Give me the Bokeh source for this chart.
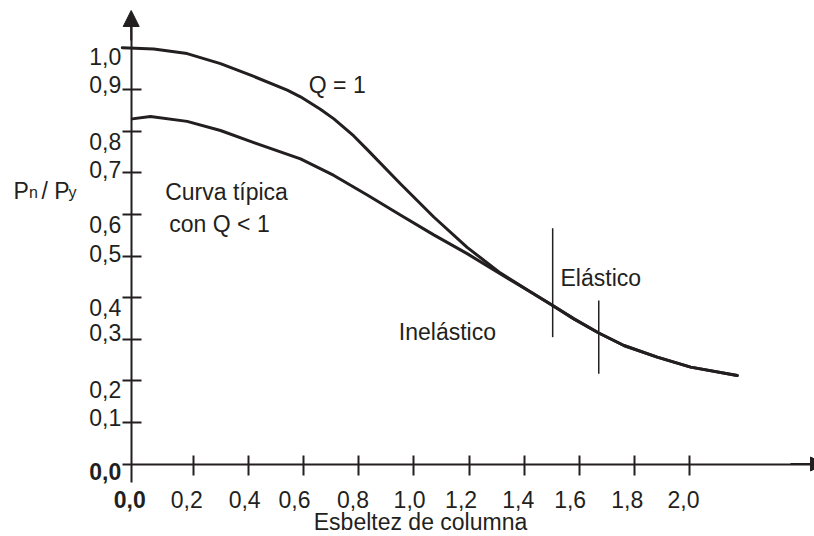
from bokeh.plotting import figure
from bokeh.models import Range1d, LinearAxis, FixedTicker, Arrow, NormalHead, CustomJSTickFormatter
from bokeh.core.properties import value
from bokeh.embed import file_html
from bokeh.resources import INLINE

# ---------------- data ----------------
x_tick_values = [0.2, 0.4, 0.6, 0.8, 1.0, 1.2, 1.4, 1.6, 1.8, 2.0]
x_tick_labels = ["0,2", "0,4", "0,6", "0,8", "1,0", "1,2", "1,4", "1,6", "1,8", "2,0"]
y_tick_values = [0.1, 0.2, 0.3, 0.4, 0.5, 0.6, 0.7, 0.8, 0.9]
y_label_values = [0.1, 0.2, 0.3, 0.4, 0.5, 0.6, 0.7, 0.8, 0.9, 1.0]
y_label_texts = ["0,1", "0,2", "0,3", "0,4", "0,5", "0,6", "0,7", "0,8", "0,9", "1,0"]

# curve Q = 1
slenderness_q1 = [-0.057, 0.057, 0.178, 0.299, 0.420, 0.541, 0.589, 0.661, 0.710, 0.782,
                  0.831, 0.951, 1.072, 1.193, 1.314, 1.435, 1.503, 1.580, 1.670, 1.761,
                  1.882, 2.003, 2.172]
ratio_q1 = [1.001, 0.998, 0.987, 0.963, 0.932, 0.899, 0.883, 0.853, 0.830, 0.789,
            0.756, 0.674, 0.594, 0.521, 0.459, 0.409, 0.381, 0.349, 0.315, 0.285,
            0.257, 0.233, 0.213]

# typical curve with Q < 1
slenderness_qlt1 = [-0.021, 0.045, 0.178, 0.299, 0.420, 0.589, 0.710, 0.831, 0.951, 1.072,
                    1.193, 1.314, 1.435, 1.503, 1.580, 1.670, 1.761, 1.882, 2.003, 2.172]
ratio_qlt1 = [0.830, 0.836, 0.824, 0.802, 0.773, 0.734, 0.694, 0.647, 0.599, 0.551,
              0.506, 0.457, 0.409, 0.381, 0.349, 0.315, 0.285, 0.257, 0.233, 0.213]

# inelastic / elastic boundary markers
boundary_x = [1.503, 1.670]
boundary_y_low = [0.305, 0.217]
boundary_y_high = [0.567, 0.393]

# ---------------- layout / style ----------------
W, H = 814, 536
PX_PER_X = 275.9
PX_PER_Y = 415.8
X0_PX = 137.5          # pixel column of x = 0
Y0_PX = 463.5          # pixel row of y = 0 (from top)
BASE_FIX = -9          # renderer places alphabetic baseline ~9 px lower


def px_x(px):
    return (px - X0_PX) / PX_PER_X


def px_y(py):
    return (Y0_PX - py - BASE_FIX) / PX_PER_Y


def px_yl(py):
    return (Y0_PX - py) / PX_PER_Y


INK = "#231f20"
FONT = "Liberation Sans"
FS = "23px"
Y_AXIS_X = px_x(130.7)

# per-label nudges (pixels) copied from the reference's irregular typesetting
y_label_dy = [4.3, 17.7, 2.7, 18.7, 6, 19, 5.4, 19.3, 4, 17.3]
y_label_dy = [d + BASE_FIX for d in y_label_dy]
x_label_dx = [-6.4, -3.7, -9, -5.7, -4.3, -8, -6, -9.3, -7.3, -6.3]

p = figure(width=W, height=H, output_backend="svg", toolbar_location=None,
           x_range=Range1d(px_x(0), px_x(W)), y_range=Range1d(px_yl(H), px_yl(0)),
           x_axis_type=None, y_axis_type=None, min_border=0,
           outline_line_color=None, background_fill_color="white",
           border_fill_color="white")

blank = CustomJSTickFormatter(code="return ''")

yaxis = LinearAxis(fixed_location=Y_AXIS_X,
                   ticker=FixedTicker(ticks=y_tick_values, minor_ticks=[]),
                   bounds=(px_yl(482), px_yl(24)),
                   major_tick_in=10, major_tick_out=9,
                   minor_tick_in=0, minor_tick_out=0,
                   axis_line_width=2, axis_line_color=INK,
                   major_tick_line_width=2, major_tick_line_color=INK,
                   formatter=blank, major_label_text_font_size="0px")
p.add_layout(yaxis, "left")

xaxis = LinearAxis(fixed_location=0,
                   ticker=FixedTicker(ticks=x_tick_values, minor_ticks=[]),
                   bounds=(px_x(122), px_x(812)),
                   major_tick_in=9, major_tick_out=11,
                   minor_tick_in=0, minor_tick_out=0,
                   axis_line_width=2, axis_line_color=INK,
                   major_tick_line_width=2, major_tick_line_color=INK,
                   formatter=blank, major_label_text_font_size="0px")
p.add_layout(xaxis, "below")

p.add_layout(Arrow(end=NormalHead(size=16, fill_color=INK, line_color=INK, line_width=1),
                   x_start=Y_AXIS_X, y_start=px_yl(40), x_end=Y_AXIS_X, y_end=px_yl(10),
                   line_color=INK, line_width=2))
p.add_layout(Arrow(end=NormalHead(size=14, fill_color=INK, line_color=INK, line_width=1),
                   x_start=px_x(790), y_start=0, x_end=px_x(824), y_end=0,
                   line_color=INK, line_width=2))

# curves
p.line(slenderness_q1, ratio_q1, line_width=3, line_color=INK, line_join="round", line_cap="round")
p.line(slenderness_qlt1, ratio_qlt1, line_width=3, line_color=INK, line_join="round", line_cap="round")

# boundary markers
p.segment(x0=boundary_x, y0=boundary_y_low, x1=boundary_x, y1=boundary_y_high,
          line_width=1.5, line_color=INK)

common = dict(text_font=value(FONT), text_color=INK, text_baseline="alphabetic")

# y tick labels
p.text(x=[Y_AXIS_X] * len(y_label_values), y=y_label_values, text=y_label_texts,
       x_offset=-10, y_offset=y_label_dy, text_align="right", text_font_size=FS, **common)
p.text(x=[Y_AXIS_X], y=[0], text=["0,0"], x_offset=-10, y_offset=16.5 + BASE_FIX,
       text_align="right", text_font_size=FS, text_font_style="bold", **common)

# x tick labels
p.text(x=x_tick_values, y=[0] * len(x_tick_values), text=x_tick_labels,
       x_offset=x_label_dx, y_offset=44 + BASE_FIX, text_align="center", text_font_size=FS, **common)
p.text(x=[Y_AXIS_X], y=[0], text=["0,0"], x_offset=-1.5, y_offset=44 + BASE_FIX,
       text_align="center", text_font_size=FS, text_font_style="bold", **common)

# annotations
p.text(x=[px_x(308.3)], y=[px_y(93.3)], text=["Q = 1"], text_align="left", text_font_size=FS, **common)
p.text(x=[px_x(226)], y=[px_y(200)], text=["Curva típica"], text_align="center", text_font_size=FS, **common)
p.text(x=[px_x(219)], y=[px_y(232)], text=["con Q < 1"], text_align="center", text_font_size=FS, **common)
p.text(x=[px_x(560)], y=[px_y(286)], text=["Elástico"], text_align="left", text_font_size=FS, **common)
p.text(x=[px_x(398.3)], y=[px_y(340)], text=["Inelástico"], text_align="left", text_font_size=FS, **common)
p.text(x=[px_x(420)], y=[px_y(530)], text=["Esbeltez de columna"], text_align="center", text_font_size=FS, **common)

# y axis title P_n / P_y
p.text(x=[px_x(13)], y=[px_y(199.5)], text=["P"], text_align="left", text_font_size=FS, **common)
p.text(x=[px_x(28.5)], y=[px_y(201)], text=["n"], text_align="left", text_font_size="16px", **common)
p.text(x=[px_x(41)], y=[px_y(199.5)], text=["/ P"], text_align="left", text_font_size=FS, **common)
p.text(x=[px_x(68)], y=[px_y(201)], text=["y"], text_align="left", text_font_size="16px", **common)

open("out.html", "w").write(file_html(p, INLINE))
